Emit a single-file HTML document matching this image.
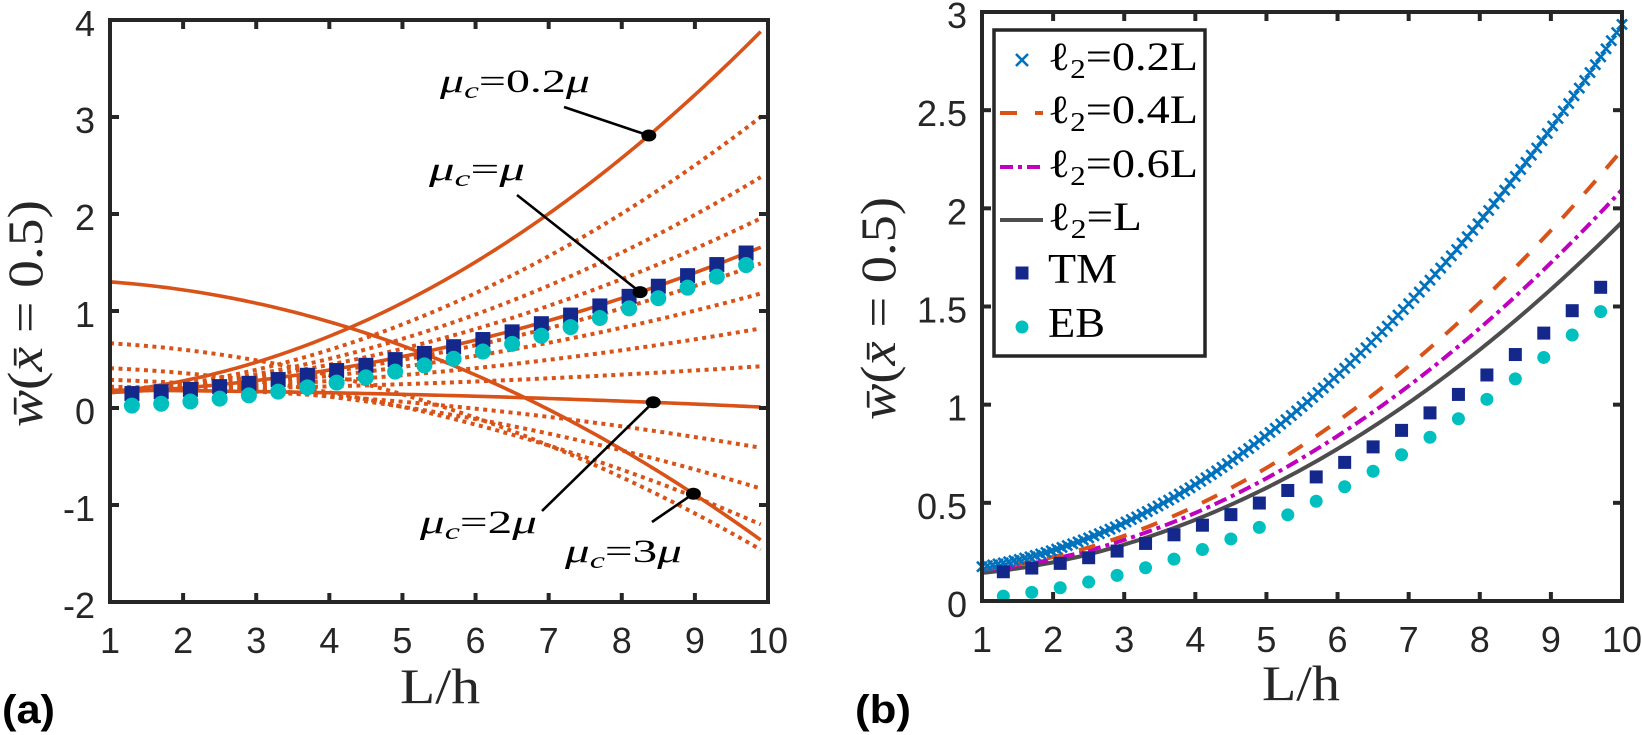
<!DOCTYPE html>
<html><head><meta charset="utf-8">
<style>html,body{margin:0;padding:0;background:#fff}svg{display:block}</style>
</head><body>
<svg id="s" width="1642" height="735" viewBox="0 0 1642 735" xmlns="http://www.w3.org/2000/svg"></svg>
<script>
const OR='#D95319', NV='#14288C', CY='#00BFBF', AX='#262626', BL='#0072BD', MG='#BF00BF', GR='#4D4D4D';
const SANS='font-family="Liberation Sans, Arial, sans-serif"';
const SERIF='font-family="Liberation Serif, DejaVu Serif, serif"';
let o='<rect width="1642" height="735" fill="#fff"/>';
const lx=x=>110+(x-1)*658/9, ly=y=>408-y*97;
const rx=x=>982+(x-1)*640/9, ry=y=>601-y*196.33;
function path(fx,fy,f,a,b,n){let d='';for(let i=0;i<=n;i++){const x=a+(b-a)*i/n;d+=(i?'L':'M')+fx(x).toFixed(2)+' '+fy(f(x)).toFixed(2);}return d;}
const XE=9.9;
const fam=(y1,ye)=>x=>y1+(ye-y1)*(x*x-1)/(XE*XE-1);

/* ---------- LEFT PLOT ---------- */
const dots=[[0.16,3.0],[0.165,2.38],[0.17,1.955],[0.17,1.49],[0.175,1.18],[0.18,0.82],[0.185,0.43],[0.22,-0.41],[0.29,-0.83],[0.41,-1.2],[0.667,-1.46]];
dots.forEach(([a,b])=>{o+=`<path d="${path(lx,ly,fam(a,b),1,XE,150)}" fill="none" stroke="${OR}" stroke-width="4" stroke-dasharray="4 4.5"/>`;});
const sol=[[0.165,3.88],[0.16,1.657],[0.184,0.01],[1.30,-1.36]];
sol.forEach(([a,b])=>{o+=`<path d="${path(lx,ly,fam(a,b),1,XE,150)}" fill="none" stroke="${OR}" stroke-width="3.6"/>`;});
const EB=x=>0.01568*x*x-0.0015, TM=x=>EB(x)+0.124;
for(let k=0;k<22;k++){const x=1.3+0.4*k;o+=`<rect x="${(lx(x)-7.5).toFixed(2)}" y="${(ly(TM(x))-7.5).toFixed(2)}" width="15" height="15" fill="${NV}"/>`;}
for(let k=0;k<22;k++){const x=1.3+0.4*k;o+=`<circle cx="${lx(x).toFixed(2)}" cy="${ly(EB(x)).toFixed(2)}" r="8" fill="${CY}"/>`;}
// annotations
const ann=[[564,107,sol[0],8.37],[517,195,sol[1],8.25],[542,511,sol[2],8.43],[652,522,sol[3],8.98]];
ann.forEach(([x0,y0,s,xd])=>{const px=lx(xd),py=ly(fam(s[0],s[1])(xd));
 o+=`<line x1="${x0}" y1="${y0}" x2="${px.toFixed(1)}" y2="${py.toFixed(1)}" stroke="#000" stroke-width="2.6"/>`;
 o+=`<ellipse cx="${px.toFixed(1)}" cy="${py.toFixed(1)}" rx="7.5" ry="6" fill="#000"/>`;});
function mutext(x,y,w,mid){return `<text x="${x}" y="${y}" ${SERIF} font-size="33" fill="#000" textLength="${w}" lengthAdjust="spacingAndGlyphs"><tspan font-style="italic">μ</tspan><tspan font-style="italic" font-size="23" dy="6">c</tspan><tspan dy="-6">=${mid}</tspan><tspan font-style="italic">μ</tspan></text>`;}
o+=mutext(440,92,150,'0.2');
o+=mutext(429,180,96,'');
o+=mutext(420,533,117,'2');
o+=mutext(565,562,117,'3');
// frame & ticks
function frame(x0,y0,x1,y1,xt,yt){
 let s=`<rect x="${x0}" y="${y0}" width="${x1-x0}" height="${y1-y0}" fill="none" stroke="${AX}" stroke-width="4"/>`;
 xt.forEach(x=>{s+=`<line x1="${x}" y1="${y1}" x2="${x}" y2="${y1-9}" stroke="${AX}" stroke-width="4"/><line x1="${x}" y1="${y0}" x2="${x}" y2="${y0+9}" stroke="${AX}" stroke-width="4"/>`;});
 yt.forEach(y=>{s+=`<line x1="${x0}" y1="${y}" x2="${x0+9}" y2="${y}" stroke="${AX}" stroke-width="4"/><line x1="${x1}" y1="${y}" x2="${x1-9}" y2="${y}" stroke="${AX}" stroke-width="4"/>`;});
 return s;}
const lxt=[],lyt=[];for(let i=1;i<=10;i++)lxt.push(lx(i));for(let j=-2;j<=4;j++)lyt.push(ly(j));
o+=frame(110,20,768,602,lxt,lyt);
for(let i=1;i<=10;i++)o+=`<text x="${lx(i)}" y="653" ${SANS} font-size="36" fill="${AX}" text-anchor="middle">${i}</text>`;
for(let j=-2;j<=4;j++)o+=`<text x="95" y="${ly(j)+16}" ${SANS} font-size="36" fill="${AX}" text-anchor="end">${j}</text>`;
o+=`<text x="400" y="703" ${SERIF} font-size="50" fill="${AX}" textLength="80" lengthAdjust="spacingAndGlyphs">L/h</text>`;
function ylab(x,y,len){return `<text transform="translate(${x},${y}) rotate(-90)" ${SERIF} font-size="50" fill="${AX}" textLength="${len}" lengthAdjust="spacingAndGlyphs"><tspan font-style="italic">w&#x304;</tspan>(<tspan font-style="italic">x&#x304;</tspan> = 0.5)</text>`;}
o+=ylab(42,427,227);
o+=`<text x="2" y="723" ${SANS} font-size="40" font-weight="bold" fill="#000" textLength="53" lengthAdjust="spacingAndGlyphs">(a)</text>`;

/* ---------- RIGHT PLOT ---------- */
const q=(a,b)=>x=>a+b*x*x;
o+=`<path d="${path(rx,ry,q(0.125,0.01805),1,10,150)}" fill="none" stroke="${GR}" stroke-width="4"/>`;
o+=`<path d="${path(rx,ry,q(0.135,0.0196),1,10,150)}" fill="none" stroke="${MG}" stroke-width="4" stroke-dasharray="13 5 4 5"/>`;
o+=`<path d="${path(rx,ry,q(0.138,0.0216),1,10,150)}" fill="none" stroke="${OR}" stroke-width="4" stroke-dasharray="17 16"/>`;
{let d='';const f=q(0.147,0.0279);for(let i=0;i<=120;i++){const x=1+9*i/120,px=rx(x),py=ry(f(x));d+=`M${(px-5).toFixed(1)} ${(py-5).toFixed(1)}L${(px+5).toFixed(1)} ${(py+5).toFixed(1)}M${(px-5).toFixed(1)} ${(py+5).toFixed(1)}L${(px+5).toFixed(1)} ${(py-5).toFixed(1)}`;}
 o+=`<path d="${d}" fill="none" stroke="${BL}" stroke-width="2.6"/>`;}
for(let k=0;k<22;k++){const x=1.3+0.4*k;o+=`<rect x="${(rx(x)-6.5).toFixed(2)}" y="${(ry(TM(x))-6.5).toFixed(2)}" width="13" height="13" fill="${NV}"/>`;}
for(let k=0;k<22;k++){const x=1.3+0.4*k;o+=`<circle cx="${rx(x).toFixed(2)}" cy="${ry(EB(x)).toFixed(2)}" r="6.5" fill="${CY}"/>`;}
const rxt=[],ryt=[];for(let i=1;i<=10;i++)rxt.push(rx(i));for(let j=0;j<=6;j++)ryt.push(ry(j*0.5));
o+=frame(982,12,1622,601,rxt,ryt);
for(let i=1;i<=10;i++)o+=`<text x="${rx(i)}" y="652" ${SANS} font-size="36" fill="${AX}" text-anchor="middle">${i}</text>`;
['0','0.5','1','1.5','2','2.5','3'].forEach((t,j)=>{o+=`<text x="967" y="${ry(j*0.5)+16}" ${SANS} font-size="36" fill="${AX}" text-anchor="end">${t}</text>`;});
o+=`<text x="1262" y="700" ${SERIF} font-size="50" fill="${AX}" textLength="78" lengthAdjust="spacingAndGlyphs">L/h</text>`;
o+=ylab(895,420,223);
o+=`<text x="855" y="723" ${SANS} font-size="40" font-weight="bold" fill="#000" textLength="56" lengthAdjust="spacingAndGlyphs">(b)</text>`;
// legend
o+=`<rect x="994" y="30" width="211" height="326" fill="#fff" stroke="${AX}" stroke-width="3.5"/>`;
o+=`<path d="M1016 54L1028 66M1016 66L1028 54" stroke="${BL}" stroke-width="2.6"/>`;
o+=`<line x1="1000" y1="113" x2="1043" y2="113" stroke="${OR}" stroke-width="4" stroke-dasharray="17 18"/>`;
o+=`<line x1="1000" y1="167" x2="1043" y2="167" stroke="${MG}" stroke-width="4" stroke-dasharray="13 5 4 5"/>`;
o+=`<line x1="1000" y1="220" x2="1043" y2="220" stroke="${GR}" stroke-width="4"/>`;
o+=`<rect x="1015.5" y="266.5" width="13" height="13" fill="${NV}"/>`;
o+=`<circle cx="1022" cy="327" r="6.5" fill="${CY}"/>`;
function ltext(y,val,w){return `<text x="1048" y="${y}" ${SERIF} font-size="40" fill="#000" textLength="${w}" lengthAdjust="spacingAndGlyphs">ℓ<tspan font-size="27" dy="8">2</tspan><tspan dy="-8">=${val}</tspan></text>`;}
o+=ltext(70,'0.2L',150);
o+=ltext(123,'0.4L',150);
o+=ltext(177,'0.6L',150);
o+=ltext(230,'L',94);
o+=`<text x="1048" y="283" ${SERIF} font-size="42" fill="#000" textLength="69" lengthAdjust="spacingAndGlyphs">TM</text>`;
o+=`<text x="1048" y="337" ${SERIF} font-size="42" fill="#000" textLength="57" lengthAdjust="spacingAndGlyphs">EB</text>`;
document.getElementById('s').innerHTML=o;
</script>
</body></html>
